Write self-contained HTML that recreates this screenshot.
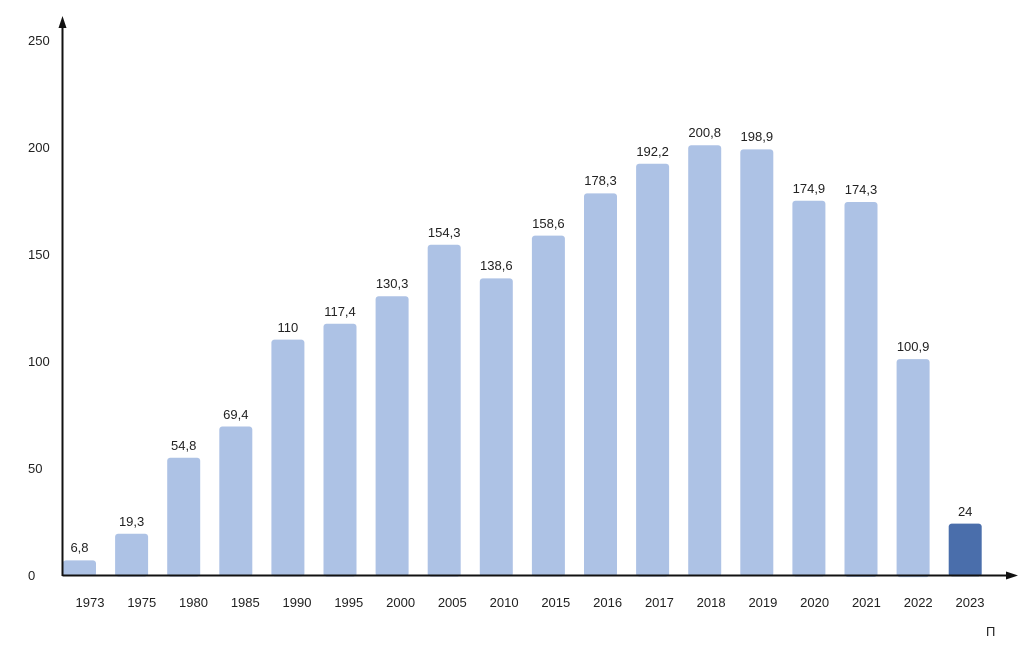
<!DOCTYPE html>
<html><head><meta charset="utf-8"><style>
html,body{margin:0;padding:0;background:#fff}
svg{display:block}
text{font-family:"Liberation Sans",sans-serif;font-size:13px;fill:#222}
</style></head><body>
<svg width="1024" height="646" viewBox="0 0 1024 646" xmlns="http://www.w3.org/2000/svg">
<g fill="#adc2e5">
<rect x="63" y="560.4" width="33" height="16" rx="3"/>
<rect x="115.1" y="533.7" width="33" height="43" rx="3"/>
<rect x="167.2" y="457.7" width="33" height="119" rx="3"/>
<rect x="219.3" y="426.5" width="33" height="150" rx="3"/>
<rect x="271.4" y="339.6" width="33" height="237" rx="3"/>
<rect x="323.5" y="323.8" width="33" height="253" rx="3"/>
<rect x="375.6" y="296.2" width="33" height="280" rx="3"/>
<rect x="427.7" y="244.8" width="33" height="332" rx="3"/>
<rect x="479.8" y="278.4" width="33" height="298" rx="3"/>
<rect x="531.9" y="235.6" width="33" height="341" rx="3"/>
<rect x="584" y="193.4" width="33" height="383" rx="3"/>
<rect x="636.1" y="163.7" width="33" height="413" rx="3"/>
<rect x="688.2" y="145.3" width="33" height="431" rx="3"/>
<rect x="740.3" y="149.4" width="33" height="427" rx="3"/>
<rect x="792.4" y="200.7" width="33" height="376" rx="3"/>
<rect x="844.5" y="202" width="33" height="375" rx="3"/>
<rect x="896.6" y="359.1" width="33" height="218" rx="3"/>
<rect x="948.7" y="523.6" width="33" height="53" rx="3" fill="#4a6eab"/>
</g>
<g text-anchor="middle">
<text x="79.5" y="552">6,8</text>
<text x="131.6" y="526">19,3</text>
<text x="183.7" y="450">54,8</text>
<text x="235.8" y="419">69,4</text>
<text x="287.9" y="332">110</text>
<text x="340" y="316">117,4</text>
<text x="392.1" y="288">130,3</text>
<text x="444.2" y="237">154,3</text>
<text x="496.3" y="270">138,6</text>
<text x="548.4" y="228">158,6</text>
<text x="600.5" y="185">178,3</text>
<text x="652.6" y="156">192,2</text>
<text x="704.7" y="137">200,8</text>
<text x="756.8" y="141">198,9</text>
<text x="808.9" y="193">174,9</text>
<text x="861" y="194">174,3</text>
<text x="913.1" y="351">100,9</text>
<text x="965.2" y="516">24</text>
</g>
<g text-anchor="middle">
<text x="90" y="607">1973</text>
<text x="141.8" y="607">1975</text>
<text x="193.5" y="607">1980</text>
<text x="245.3" y="607">1985</text>
<text x="297" y="607">1990</text>
<text x="348.8" y="607">1995</text>
<text x="400.6" y="607">2000</text>
<text x="452.3" y="607">2005</text>
<text x="504.1" y="607">2010</text>
<text x="555.8" y="607">2015</text>
<text x="607.6" y="607">2016</text>
<text x="659.4" y="607">2017</text>
<text x="711.1" y="607">2018</text>
<text x="762.9" y="607">2019</text>
<text x="814.6" y="607">2020</text>
<text x="866.4" y="607">2021</text>
<text x="918.2" y="607">2022</text>
<text x="970" y="607">2023</text>
</g>
<g text-anchor="start">
<text x="28" y="45">250</text>
<text x="28" y="152">200</text>
<text x="28" y="259">150</text>
<text x="28" y="366">100</text>
<text x="28" y="473">50</text>
<text x="28" y="580">0</text>
</g>
<line x1="62.5" y1="575.5" x2="1008" y2="575.5" stroke="#111" stroke-width="2"/>
<polygon points="1018,575.5 1006,571.5 1006,579.5" fill="#111"/>
<line x1="62.5" y1="576" x2="62.5" y2="26" stroke="#111" stroke-width="2"/>
<polygon points="62.5,16 58.5,28 66.5,28" fill="#111"/>
<text x="986" y="636">П</text>
</svg>
</body></html>
